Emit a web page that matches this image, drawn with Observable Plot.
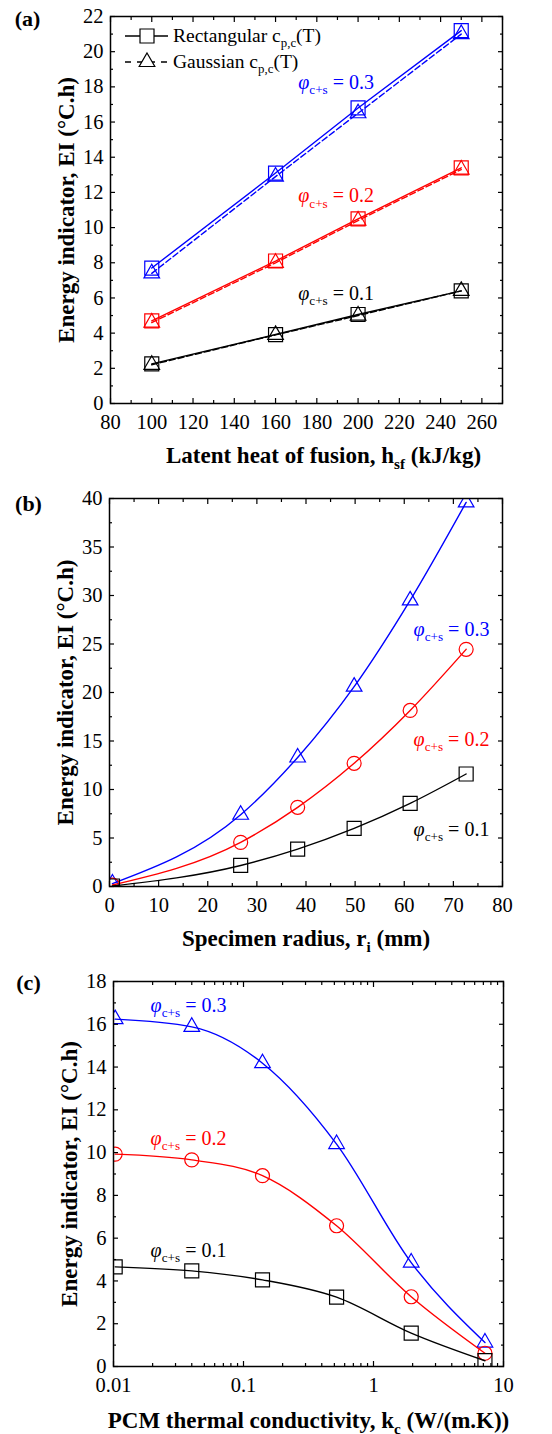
<!DOCTYPE html>
<html><head><meta charset="utf-8">
<script src="https://cdn.jsdelivr.net/npm/d3@7"></script>
<script src="https://cdn.jsdelivr.net/npm/@observablehq/plot@0.6"></script>
<style>
body{margin:0;background:#fff;}
#root{width:552px;}
#root svg{display:block;}
#root svg, #root svg text, #root svg tspan{font-family:"Liberation Serif","Times New Roman",Times,"DejaVu Serif",serif !important;}
</style>
</head><body><div id="root"></div>
<script>
// ---------- Panel (a): latent heat of fusion ----------
const hsf = [100, 160, 200, 250];
const aRect03 = [7.7, 13.1, 16.8, 21.2];
const aGaus03 = [7.4, 12.9, 16.5, 21.0];
const aRect02 = [4.7, 8.1, 10.5, 13.4];
const aGaus02 = [4.6, 8.0, 10.4, 13.3];
const aRect01 = [2.25, 3.92, 5.06, 6.40];
const aGaus01 = [2.2, 3.9, 5.0, 6.4];
const aXTicks = [80, 100, 120, 140, 160, 180, 200, 220, 240, 260];
const aXMinor = [90, 110, 130, 150, 170, 190, 210, 230, 250, 270];
const aYTicks = [0, 2, 4, 6, 8, 10, 12, 14, 16, 18, 20, 22];
const aYMinor = [1, 3, 5, 7, 9, 11, 13, 15, 17, 19, 21];
const aLabelX = [171, 171, 171];
const aLabelY = [18.25, 11.8, 6.27];

// ---------- Panel (b): specimen radius ----------
const radius = [0.6, 26.7, 38.3, 49.8, 61.2, 72.6];
const b03 = [0.3, 7.4, 13.3, 20.6, 29.5, 39.6];
const b02 = [0.15, 4.55, 8.16, 12.7, 18.15, 24.45];
const b01 = [0.05, 2.17, 3.86, 5.99, 8.57, 11.6];
const bXTicks = [0, 10, 20, 30, 40, 50, 60, 70, 80];
const bXMinor = [5, 15, 25, 35, 45, 55, 65, 75];
const bYTicks = [0, 5, 10, 15, 20, 25, 30, 35, 40];
const bYMinor = [2.5, 7.5, 12.5, 17.5, 22.5, 27.5, 32.5, 37.5];
const bLabelX = [61.9, 61.9, 61.9];
const bLabelY = [26.5, 15.15, 5.87];

// ---------- Panel (c): PCM thermal conductivity ----------
const kc = [0.0103, 0.04, 0.14, 0.52, 1.95, 7.2];
const c03 = [16.24, 15.88, 14.18, 10.4, 4.86, 1.12];
const c02 = [9.93, 9.66, 8.92, 6.58, 3.26, 0.62];
const c01 = [4.66, 4.47, 4.05, 3.24, 1.56, 0.27];
const cXTicks = [0.01, 0.1, 1, 10];
const cXMinor = [0.02,0.03,0.04,0.05,0.06,0.07,0.08,0.09,0.2,0.3,0.4,0.5,0.6,0.7,0.8,0.9,2,3,4,5,6,7,8,9];
const cYTicks = [0, 2, 4, 6, 8, 10, 12, 14, 16, 18];
const cYMinor = [1, 3, 5, 7, 9, 11, 13, 15, 17];
const cLabelX = [0.0193, 0.0193, 0.0193];
const cLabelY = [16.86, 10.65, 5.41];

const phiValues = ["0.3", "0.2", "0.1"];
const FONT = "Liberation Serif, Times New Roman, DejaVu Serif, serif";
const BLUE = "#0000ff", RED = "#ff0000", BLACK = "#000000";
const colors = [BLUE, RED, BLACK];
const none = () => "";

function frameTicks(xMaj, xMin, yMaj, yMin) {
  const o = {tickFormat: none, label: null, stroke: "black", strokeWidth: 1.2};
  return [
    Plot.axisX(xMaj, {...o, anchor: "bottom", tickSize: -5}),
    Plot.axisX(xMin, {...o, anchor: "bottom", tickSize: -3}),
    Plot.axisX(xMaj, {...o, anchor: "top", tickSize: -5}),
    Plot.axisX(xMin, {...o, anchor: "top", tickSize: -3}),
    Plot.axisY(yMaj, {...o, anchor: "left", tickSize: -5}),
    Plot.axisY(yMin, {...o, anchor: "left", tickSize: -3}),
    Plot.axisY(yMaj, {...o, anchor: "right", tickSize: -5}),
    Plot.axisY(yMin, {...o, anchor: "right", tickSize: -3})
  ];
}
function tickLabels(xMaj, yMaj, xdy = 19) {
  return [
    Plot.text(xMaj, {x: d => d, frameAnchor: "bottom", dy: xdy, text: d => String(d), fontSize: 20.5, fontFamily: FONT, textAnchor: "middle", lineAnchor: "middle"}),
    Plot.text(yMaj, {y: d => d, frameAnchor: "left", dx: -7, text: d => String(d), fontSize: 20.5, fontFamily: FONT, textAnchor: "end"})
  ];
}
function titles(xTitle, xdx, xdy, panel, pdx, pdy) {
  return [
    Plot.text([xTitle], {frameAnchor: "bottom", dx: xdx, dy: xdy, fontSize: 23, fontFamily: FONT, fontWeight: "bold", textAnchor: "middle", lineAnchor: "middle"}),
    Plot.text(["Energy indicator, EI (°C.h)"], {frameAnchor: "left", dx: -44, rotate: -90, fontSize: 23, fontFamily: FONT, fontWeight: "bold", textAnchor: "middle", lineAnchor: "middle"}),
    Plot.text([panel], {frameAnchor: "top-left", dx: pdx, dy: pdy, fontSize: 22, fontFamily: FONT, fontWeight: "bold", textAnchor: "middle", lineAnchor: "middle"})
  ];
}
function phiLabels(xs, ys) {
  return Plot.text(phiValues, {x: (d, i) => xs[i], y: (d, i) => ys[i], text: d => `~{φ}_{c+s} = ${d}`,
    fill: (d, i) => colors[i], textAnchor: "start", fontSize: 20, fontFamily: FONT});
}
function rows(xs, ys) { return xs.map((x, i) => ({x, y: ys[i]})); }

const LW = 1.4;
const base = {x: "x", y: "y", clip: "frame"};
const plotStyle = {background: "white", color: "black", overflow: "visible", fontFamily: FONT};

// ---------- Chart A ----------
const aSeries = [[aRect03, aGaus03], [aRect02, aGaus02], [aRect01, aGaus01]];
const aMarks = [];
aSeries.forEach(([r, g], i) => {
  aMarks.push(Plot.line(rows(hsf, r), {...base, stroke: colors[i], strokeWidth: LW}));
  aMarks.push(Plot.line(rows(hsf, g), {...base, stroke: colors[i], strokeWidth: LW, strokeDasharray: "6,3"}));
  aMarks.push(Plot.dot(rows(hsf, r), {...base, symbol: "square", r: 7.9, stroke: colors[i], strokeWidth: 1.2, fill: "none"}));
  aMarks.push(Plot.dot(rows(hsf, g), {...base, symbol: "triangle", r: 5.8, stroke: colors[i], strokeWidth: 1.2, fill: "none"}));
});
const chartA = Plot.plot({
  width: 552, height: 470, marginTop: 16, marginBottom: 67, marginLeft: 110, marginRight: 50,
  style: plotStyle,
  x: {domain: [80, 270]}, y: {domain: [0, 22]},
  marks: [
    ...aMarks,
    phiLabels(aLabelX, aLabelY),
    ...frameTicks(aXTicks, aXMinor, aYTicks, aYMinor),
    ...tickLabels(aXTicks, aYTicks),
    ...titles("Latent heat of fusion, h_{sf} (kJ/kg)", 17, 52, "(a)", -83, 2),
    Plot.frame({stroke: "black", strokeWidth: 1.5})
  ]
});

// ---------- Chart B ----------
const bSeries = [[b03, "triangle", 5.8], [b02, "circle", 7], [b01, "square", 7.9]];
const bMarks = [];
bSeries.forEach(([ys, sym, r], i) => {
  bMarks.push(Plot.line(rows(radius, ys), {...base, stroke: colors[i], strokeWidth: LW, curve: "monotone-x"}));
  bMarks.push(Plot.dot(rows(radius, ys), {...base, symbol: sym, r, stroke: colors[i], strokeWidth: 1.2, fill: "none"}));
});
const chartB = Plot.plot({
  width: 552, height: 480, marginTop: 28, marginBottom: 64, marginLeft: 109, marginRight: 50,
  style: plotStyle,
  x: {domain: [0, 80]}, y: {domain: [0, 40]},
  marks: [
    ...bMarks,
    phiLabels(bLabelX, bLabelY),
    ...frameTicks(bXTicks, bXMinor, bYTicks, bYMinor),
    ...tickLabels(bXTicks, bYTicks),
    ...titles("Specimen radius, r_{i} (mm)", 0, 52, "(b)", -81, 5),
    Plot.frame({stroke: "black", strokeWidth: 1.5})
  ]
});

// ---------- Chart C ----------
const cSeries = [[c03, "triangle", 5.8], [c02, "circle", 7], [c01, "square", 7.9]];
const cMarks = [];
cSeries.forEach(([ys, sym, r], i) => {
  cMarks.push(Plot.line(rows(kc, ys), {...base, stroke: colors[i], strokeWidth: LW, curve: "monotone-x"}));
  cMarks.push(Plot.dot(rows(kc, ys), {...base, symbol: sym, r, stroke: colors[i], strokeWidth: 1.2, fill: "none"}));
});
const chartC = Plot.plot({
  width: 552, height: 484, marginTop: 31, marginBottom: 68, marginLeft: 113, marginRight: 49,
  style: plotStyle,
  x: {type: "log", domain: [0.01, 10]}, y: {domain: [0, 18]},
  marks: [
    ...cMarks,
    phiLabels(cLabelX, cLabelY),
    ...frameTicks(cXTicks, cXMinor, cYTicks, cYMinor),
    ...tickLabels(cXTicks, cYTicks),
    ...titles("PCM thermal conductivity, k_{c} (W/(m.K))", 0, 54, "(c)", -85, 1),
    Plot.frame({stroke: "black", strokeWidth: 1.5})
  ]
});

const root = document.getElementById("root");
root.append(chartA, chartB, chartC);

// ---------- Legend for panel (a) ----------
{
  const svg = d3.select(chartA);
  const g = svg.append("g").attr("font-family", FONT).attr("font-size", 19.5).attr("text-anchor", "start");
  const rowsL = [
    {y: 36, dash: null, sym: d3.symbolSquare, r: 7.9, text: "Rectangular c_{p,c}(T)"},
    {y: 62, dash: "6,6", sym: d3.symbolTriangle, r: 5.8, text: "Gaussian c_{p,c}(T)"}
  ];
  rowsL.forEach(row => {
    g.append("line").attr("x1", 125).attr("x2", 168).attr("y1", row.y).attr("y2", row.y)
      .attr("stroke", "black").attr("stroke-width", LW).attr("stroke-dasharray", row.dash);
    g.append("path").attr("transform", `translate(147,${row.y})`)
      .attr("d", d3.symbol(row.sym, row.r * row.r * Math.PI)())
      .attr("fill", "white").attr("stroke", "black").attr("stroke-width", 1.2);
    g.append("text").attr("x", 173).attr("y", row.y).attr("dy", "0.32em").attr("text-anchor", "start").text(row.text);
  });
}

// ---------- rich text: _{sub} and ~{italic} ----------
function richify(svg) {
  svg.querySelectorAll("text").forEach(t => {
    const s = t.textContent;
    if (!/[_~]\{/.test(s)) return;
    const fs = parseFloat(getComputedStyle(t).fontSize) || 16;
    while (t.firstChild) t.removeChild(t.firstChild);
    const re = /([_~])\{([^}]*)\}|([^_~]+)/g;
    let m, shift = 0;
    while ((m = re.exec(s))) {
      const ts = document.createElementNS("http://www.w3.org/2000/svg", "tspan");
      if (m[1] === "_") {
        const d = 0.26 * fs;
        ts.setAttribute("font-size", (0.66 * fs).toFixed(2));
        ts.setAttribute("dy", (d - shift).toFixed(2));
        shift = d;
        ts.textContent = m[2];
      } else {
        if (shift) { ts.setAttribute("dy", (-shift).toFixed(2)); shift = 0; }
        if (m[1] === "~") ts.setAttribute("font-style", "italic");
        ts.textContent = m[1] ? m[2] : m[3];
      }
      t.appendChild(ts);
    }
  });
}
[chartA, chartB, chartC].forEach(richify);
</script>
</body></html>
